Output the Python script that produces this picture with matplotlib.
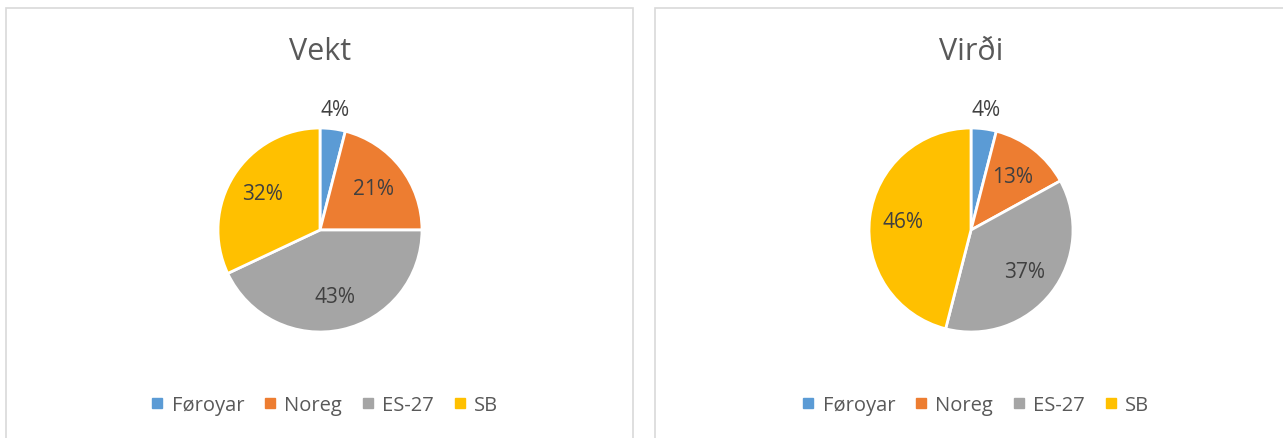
import matplotlib
matplotlib.use("Agg")
import matplotlib.pyplot as plt
from matplotlib.patches import Rectangle
from matplotlib.lines import Line2D
import numpy as np

categories = ["Føroyar", "Noreg", "ES-27", "SB"]
vekt = [4, 21, 43, 32]
virdi = [4, 13, 37, 46]
titles = ["Vekt", "Virði"]
colors = ["#5B9BD5", "#ED7D31", "#A5A5A5", "#FFC000"]

W, H = 1283, 439
plt.rcParams["font.family"] = ["Open Sans", "DejaVu Sans"]

fig = plt.figure(figsize=(W / 100, H / 100), dpi=100)
fig.patch.set_facecolor("white")

# chart frames (px: left, top, right)
frames = [(6, 9, 633), (655, 9, 1290)]
for x0, y0, x1 in frames:
    fig.patches.append(Rectangle((x0 / W, -0.1), (x1 - x0) / W, (H - y0) / H + 0.1,
                                 transform=fig.transFigure, fill=False,
                                 edgecolor="#D9D9D9", linewidth=1.2))

centers = [(320, 231), (971, 231)]
radius = 102
half = 1.25 * radius

for (cx, cy), vals, title in zip(centers, [vekt, virdi], titles):
    ax = fig.add_axes([(cx - half) / W, (H - cy - half) / H, 2 * half / W, 2 * half / H])
    ax.set_xlim(-1.25, 1.25)
    ax.set_ylim(-1.25, 1.25)
    ax.set_aspect("equal")
    ax.axis("off")
    wedges, _ = ax.pie(vals, colors=colors, startangle=90, counterclock=False,
                       radius=1, wedgeprops=dict(edgecolor="white", linewidth=2))
    for w, v in zip(wedges, vals):
        mid = np.deg2rad((w.theta1 + w.theta2) / 2)
        d = 1.19 if v < 8 else 0.67
        ax.text(d * np.cos(mid), d * np.sin(mid), f"{v}%", ha="center", va="center",
                fontsize=15, color="#404040")

    fig.text(cx / W, (H - 60) / H, title, ha="center", va="baseline",
             fontsize=22, color="#595959")

    handles = [Line2D([], [], marker="s", linestyle="none", markersize=7,
                      markerfacecolor=c, markeredgecolor=c) for c in colors]
    fig.legend(handles, categories, loc="center", ncol=4,
               bbox_to_anchor=((cx + 5) / W, (H - 406) / H), frameon=False,
               fontsize=14.5, labelcolor="#595959", handlelength=0.6,
               handletextpad=0.4, columnspacing=1.0)

fig.savefig("out.png", dpi=100, facecolor="white")
